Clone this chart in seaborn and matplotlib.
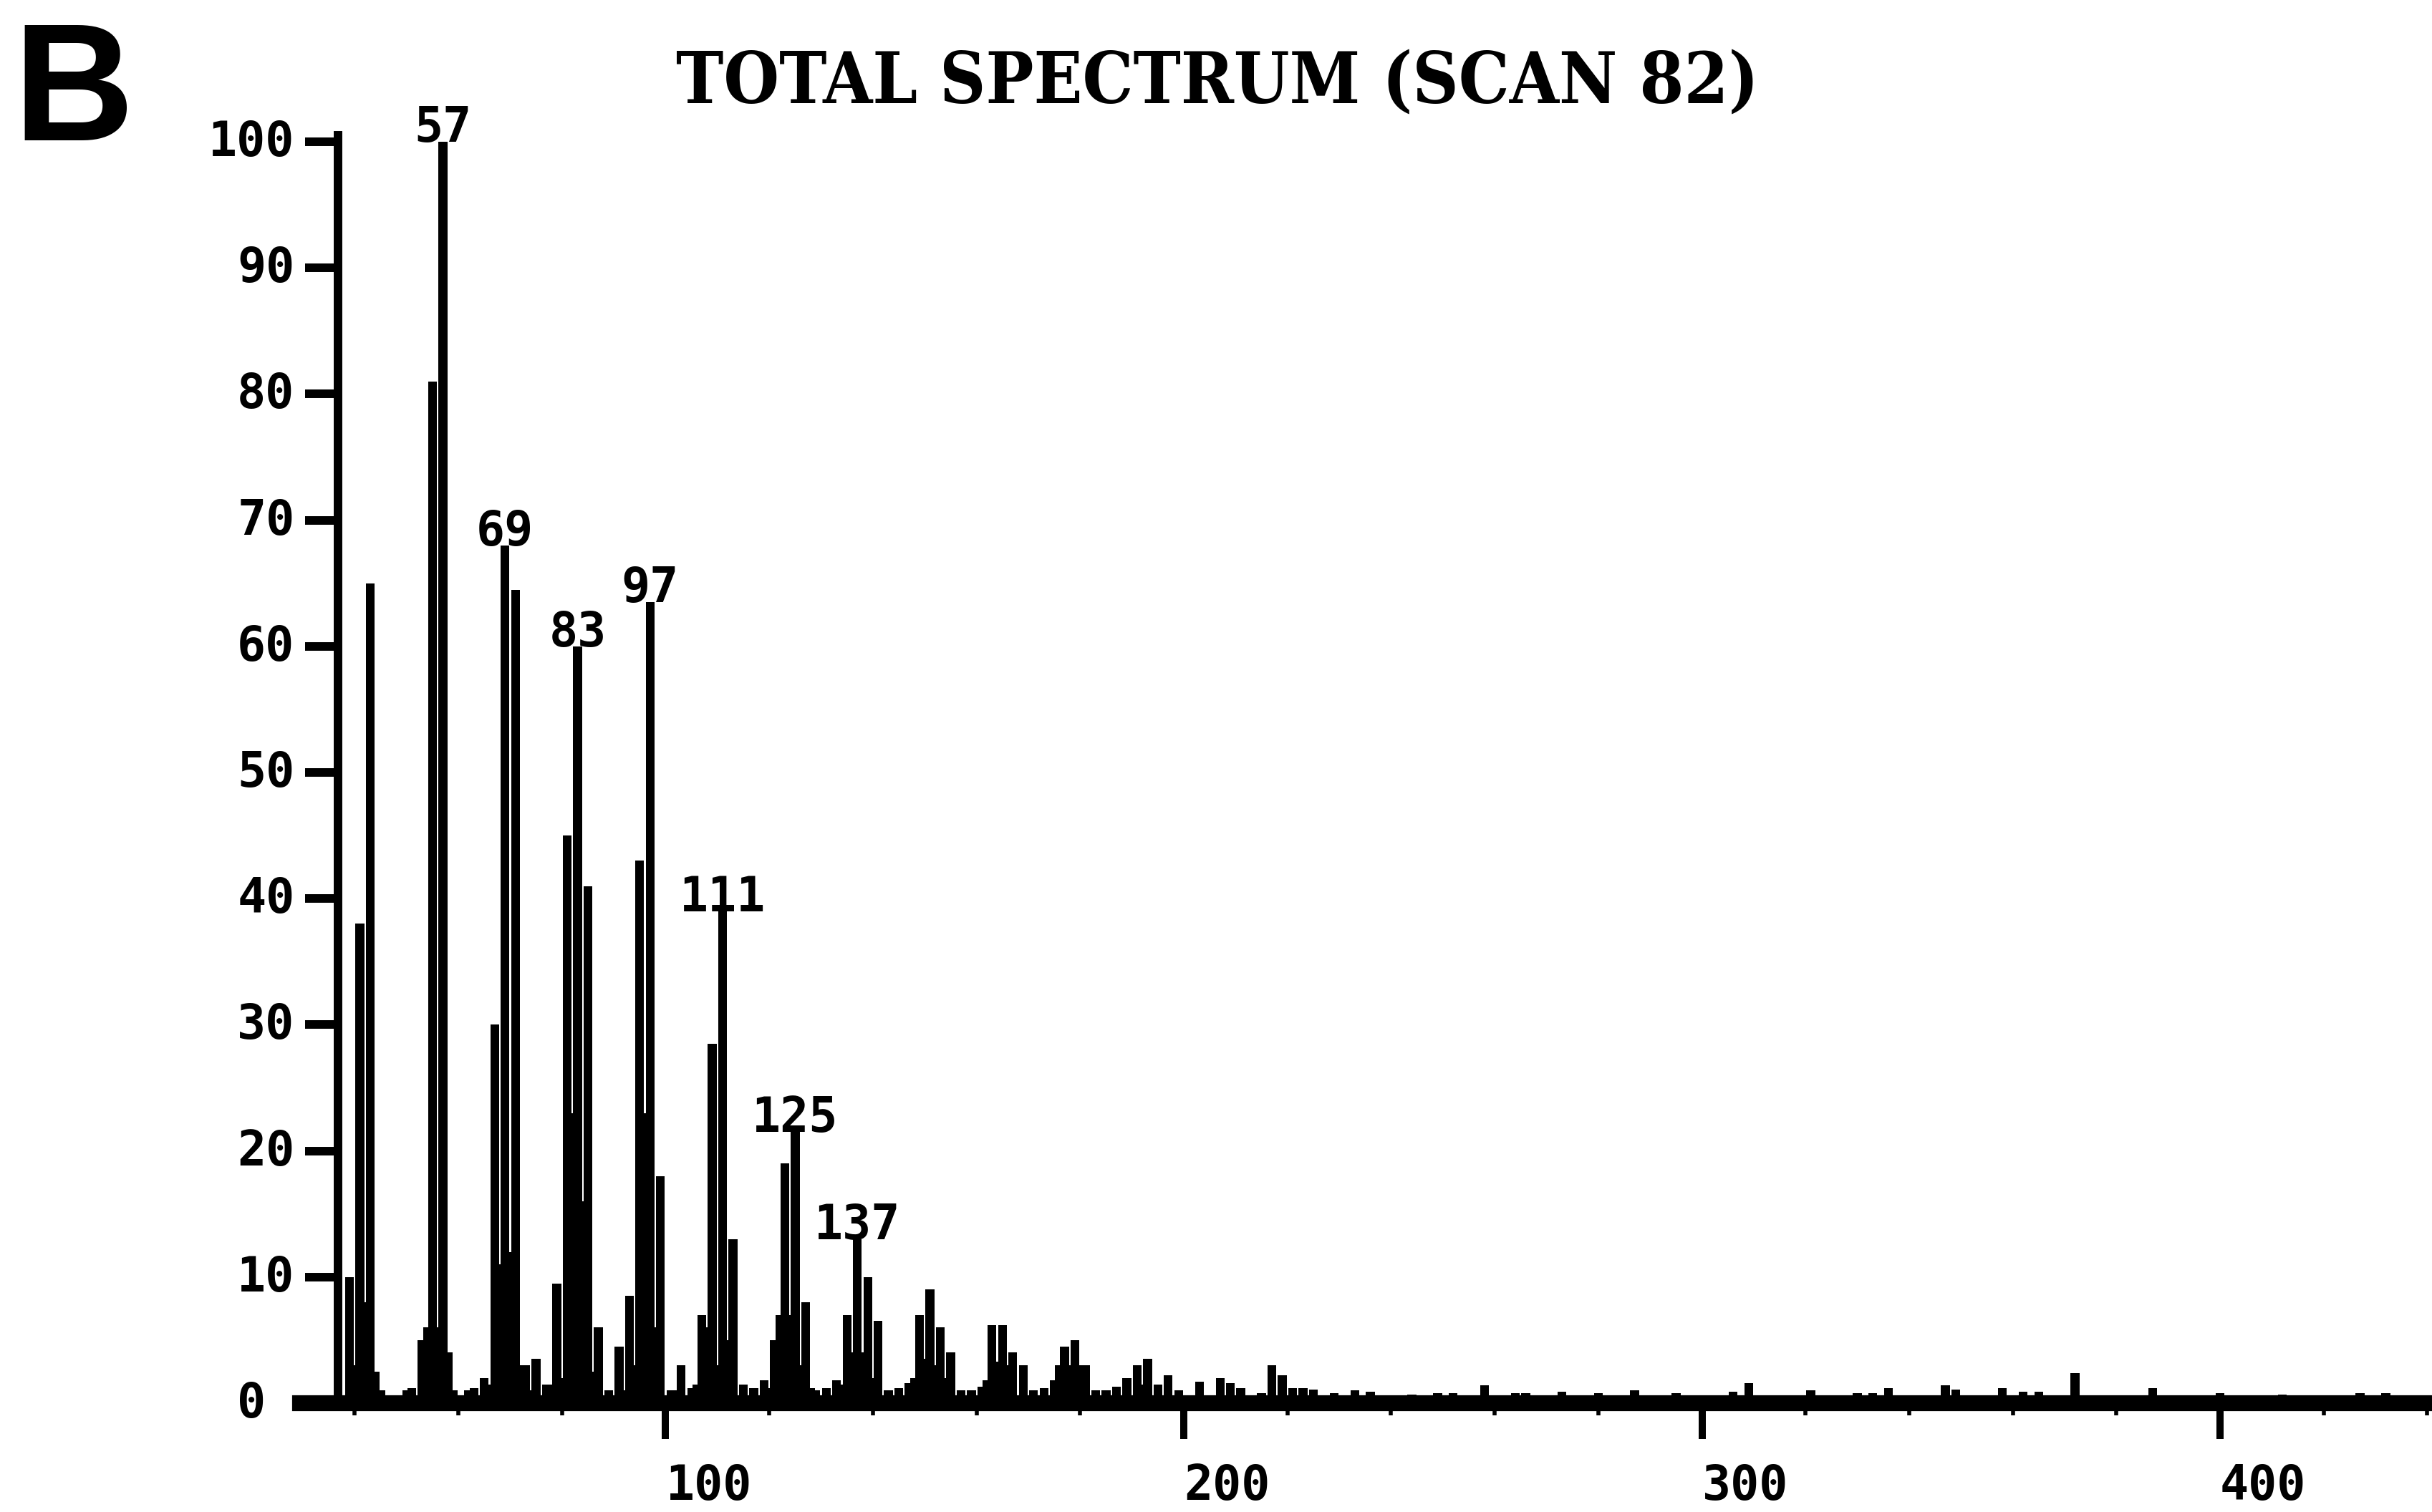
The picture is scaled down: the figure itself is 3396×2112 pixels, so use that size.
import matplotlib
matplotlib.use("Agg")
import matplotlib.pyplot as plt
import pandas as pd
import seaborn as sns
from matplotlib.ticker import FixedLocator
from matplotlib.transforms import ScaledTranslation

# Mass-spectrum sticks: m/z and relative intensity (% of base peak)
mz = [39, 40, 41, 42, 43, 44, 45, 50, 51, 53, 54, 55, 56, 57, 58, 59, 62, 63,
      65, 66, 67, 68, 69, 70, 71, 72, 73, 74, 75, 77, 78, 79, 80, 81, 82, 83,
      84, 85, 86, 87, 89, 91, 92, 93, 94, 95, 96, 97, 98, 99, 101, 102, 103,
      105, 106, 107, 108, 109, 110, 111, 112, 113, 115, 117, 119, 120, 121,
      122, 123, 124, 125, 126, 127, 128, 129, 131, 133, 134, 135, 136, 137,
      138, 139, 140, 141, 143, 145, 147, 148, 149, 150, 151, 152, 153, 154,
      155, 157, 159, 161, 162, 163, 164, 165, 166, 167, 169, 171, 173, 175,
      176, 177, 178, 179, 180, 181, 183, 185, 187, 189, 191, 192, 193, 195,
      197, 199, 203, 207, 209, 211, 215, 217, 219, 221, 223, 225, 229, 233,
      236, 244, 249, 252, 258, 264, 266, 273, 280, 287, 295, 306, 309, 321,
      330, 333, 336, 347, 349, 358, 362, 365, 372, 387, 400, 412, 427, 432]
intensity = [10, 3, 38, 8, 65, 2.5, 1, 1, 1.2, 5, 6, 81, 6, 100, 4, 1, 1, 1.2,
             2, 1.5, 30, 11, 68, 12, 64.5, 3, 3, 1, 3.5, 1.5, 1.5, 9.5, 2, 45, 23, 60,
             16, 41, 2.5, 6, 1, 4.5, 1, 8.5, 3, 43, 23, 63.5, 6, 18, 1, 1, 3,
             1.2, 1.5, 7, 6, 28.5, 3, 39, 5, 13, 1.5, 1.2, 1.8, 1.2, 5,
             7, 19, 7, 21.5, 3, 8, 1.2, 1, 1.2, 1.8, 1.5, 7, 4, 13,
             4, 10, 2, 6.5, 1, 1.2, 1.6, 2, 7, 3.5, 9, 3, 6, 2,
             4, 1, 1, 1.3, 1.8, 6.2, 3.3, 6.2, 3, 4, 3, 1, 1.2, 1.8,
             3, 4.5, 3, 5, 3, 3, 1, 1, 1.3, 2, 3, 1.5, 3.5, 1.5,
             2.2, 1, 1.7, 2, 1.6, 1.2, 0.8, 3, 2.2, 1.2, 1.2, 1.1, 0.8, 1.0,
             0.9, 0.7, 0.8, 0.8, 1.4, 0.8, 0.8, 0.9, 0.8, 1.0, 0.8, 0.9, 1.6, 1.0,
             0.8, 0.8, 1.2, 1.4, 1.1, 1.2, 0.9, 0.9, 2.4, 1.2, 0.8, 0.7, 0.8, 0.8]
labelled_mz = [57, 69, 83, 97, 111, 125, 137]
y_ticks = [0, 10, 20, 30, 40, 50, 60, 70, 80, 90, 100]
x_ticks = [100, 200, 300, 400]
x_minor_ticks = [m for m in range(40, 441, 20) if m % 100]
title_text = "TOTAL SPECTRUM (SCAN 82)"
panel_letter = "B"

DPI = 200
W, H = 3396, 2112

sns.set_theme(style="white")
plt.rcParams["font.family"] = ["DejaVu Sans Mono", "DejaVu Sans"]
plt.rcParams.update({
    "axes.edgecolor": "black", "xtick.color": "black", "ytick.color": "black",
    "text.color": "black", "axes.labelcolor": "black",
    "figure.facecolor": "white", "axes.facecolor": "white",
})

fig = plt.figure(figsize=(W / DPI, H / DPI), dpi=DPI)
ax = fig.add_axes([0.12350, 0.05530, 0.87650, 0.86761])

spectrum = pd.DataFrame({"mz": mz, "intensity": intensity})
sns.barplot(data=spectrum, x="mz", y="intensity", native_scale=True,
            width=1.7, color="black", saturation=1, linewidth=0,
            errorbar=None, ax=ax)

ax.set_xlim(29.5, 440.9)
ax.set_ylim(-2, 102)
ax.set_xlabel("")
ax.set_ylabel("")

# Axis lines: intensity axis stands inside the plot, baseline at zero
for side in ("top", "right"):
    ax.spines[side].set_visible(False)
ax.spines["left"].set_position(("data", 36.8))
ax.spines["left"].set_bounds(0, 100.5)
ax.spines["left"].set_linewidth(4.3)
ax.spines["bottom"].set_position(("data", 0))
ax.spines["bottom"].set_linewidth(8)

ax.set_yticks(y_ticks)
ax.set_yticklabels([str(t) for t in y_ticks])
ax.set_xticks(x_ticks)
ax.set_xticklabels([str(t) for t in x_ticks])
ax.xaxis.set_minor_locator(FixedLocator(x_minor_ticks))

ax.tick_params(axis="y", which="major", left=True, direction="out",
               length=16.5, width=4.3, pad=5.4, labelsize=24)
ax.tick_params(axis="x", which="major", bottom=True, direction="out",
               length=18, width=3.6, pad=12, labelsize=24)
ax.tick_params(axis="x", which="minor", bottom=True, direction="out",
               length=6, width=2.0)

for lab in ax.get_xticklabels():
    lab.set_fontweight("bold")
    lab.set_horizontalalignment("left")
for lab, t in zip(ax.get_yticklabels(), y_ticks):
    lab.set_fontweight("bold")
    lab.set_verticalalignment("baseline")
    # the zero label sits one character further left than the others
    dx = -40 / DPI if t == 0 else 0
    lab.set_transform(lab.get_transform()
                      + ScaledTranslation(dx, -20 / DPI, fig.dpi_scale_trans))

# Peak annotations with their m/z
peak_height = dict(zip(mz, intensity))
for m in labelled_mz:
    ax.text(m, peak_height[m], str(m), ha="center", va="baseline",
            fontsize=24, fontweight="bold", family="DejaVu Sans Mono")

title = fig.text(1700 / W, 1 - 145 / H, title_text, ha="center", va="baseline",
                 family="DejaVu Serif", fontweight="bold",
                 fontstretch="condensed", fontsize=40)
fig.text(18 / W, 1 - 196 / H, panel_letter, ha="left", va="baseline",
         family="Liberation Sans", fontweight="bold", fontsize=84)

# fit the title to its printed width
fig.canvas.draw()
tw = title.get_window_extent().width
title.set_fontsize(40 * 1512 / tw)

fig.savefig("out.png", dpi=DPI, facecolor="white")
